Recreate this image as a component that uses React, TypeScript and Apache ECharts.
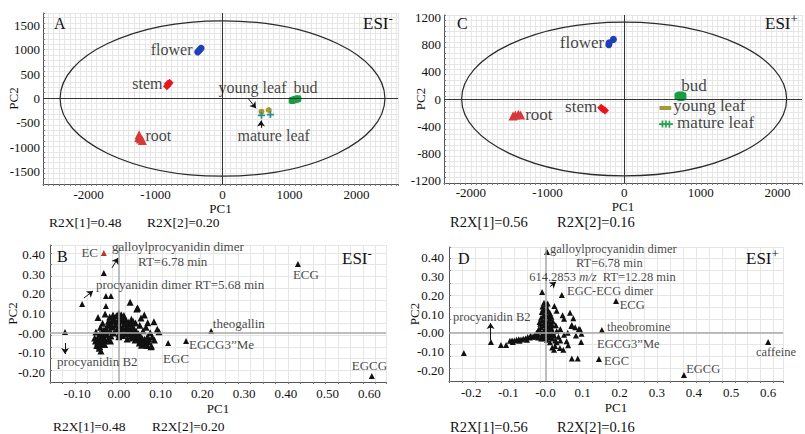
import { useEffect, useRef } from "react";
import * as echarts from "echarts";

const SERIF = "Liberation Serif, Times New Roman, serif";
const INK = "#111";

type Pt = [number, number];
type Note = [string, number, number, ("left" | "right" | "center")?];
type Arrow = [number, number, number, number];

// ---------- A: PCA scores, ESI− ----------
const flowerA: Pt[] = [[-370, 950], [-345, 990], [-320, 1030]];
const stemA: Pt[] = [[-830, 250], [-815, 300], [-805, 290], [-790, 320]];
const rootA: Pt[] = [[-1245, -740], [-1250, -800], [-1225, -830], [-1195, -860]];
const youngLeafA: Pt[] = [[582, -270], [690, -235]];
const matureLeafA: Pt[] = [[582, -345], [715, -330]];
const budA: Pt[] = [[1040, -40], [1070, -25], [1100, -15], [1125, -5]];
const notesA: Note[] = [
  ["flower", -448, 1013, "right"],
  ["stem", -896, 317, "right"],
  ["root", -1150, -767],
  ["young leaf", -60, 235],
  ["bud", 1060, 235],
  ["mature leaf", 224, -767],
];
const arrowsA: Arrow[] = [
  [390, -10, 500, -200],
  [575, -600, 575, -450],
];
const ellipseA: Pt = [2425, 1590];

// ---------- C: PCA scores, ESI+ ----------
const flowerC: Pt[] = [[-200, 800], [-195, 830], [-140, 880]];
const stemC: Pt[] = [[-300, -130], [-275, -150], [-250, -170]];
const rootC: Pt[] = [[-1450, -250], [-1420, -236], [-1380, -225], [-1350, -238]];
const youngLeafC: Pt[] = [[520, -133], [555, -133]];
const matureLeafC: Pt[] = [[500, -370], [545, -370], [590, -372]];
const budC: Pt[] = [[710, 40], [735, 50], [760, 40], [740, 30]];
const notesC: Note[] = [
  ["flower", -261, 841, "right"],
  ["bud", 744, 192],
  ["young leaf", 639, -103],
  ["mature leaf", 691, -354],
  ["stem", -352, -118, "right"],
  ["root", -1291, -236],
];
const ellipseC: Pt = [2120, 1135];

// ---------- B: PCA loadings, ESI− ----------
const ecB: Pt[] = [[-0.036, 0.409]];
const markedB: Pt[] = [
  [-0.036, 0.307], [-0.088, 0.149], [-0.031, 0.19], [-0.019, 0.19], [-0.031, 0.138],
  [-0.129, 0.006], [0.118, -0.051], [0.161, -0.04], [0.221, 0.011], [0.429, 0.353], [0.606, -0.219],
];
const denseB: Pt[] = [
  [0.0, 0.102], [0.006, 0.092], [-0.006, 0.088], [0.012, 0.08], [-0.011, 0.076], [0.002, 0.072],
  [0.016, 0.068], [-0.016, 0.064], [0.008, 0.06], [-0.003, 0.056], [0.022, 0.056], [-0.021, 0.05],
  [0.013, 0.046], [-0.008, 0.043], [0.027, 0.045], [-0.026, 0.04], [0.003, 0.036], [0.019, 0.034],
  [-0.015, 0.031], [0.032, 0.032], [-0.031, 0.025], [0.01, 0.026], [-0.005, 0.02], [0.023, 0.022],
  [0.037, 0.02], [-0.036, 0.015], [-0.021, 0.012], [0.005, 0.01], [0.015, 0.008], [0.029, 0.01],
  [0.042, 0.008], [-0.041, 0.004], [-0.012, 0.001], [0.0, -0.005], [0.02, -0.002], [0.035, -0.005],
  [0.047, -0.004], [-0.046, -0.006], [-0.029, -0.008], [-0.019, -0.015], [0.01, -0.012], [0.028, -0.016],
  [0.041, -0.019], [0.052, -0.016], [-0.05, -0.021], [-0.036, -0.023], [-0.026, -0.031], [0.0, -0.019],
  [0.046, -0.031], [0.056, -0.029], [-0.045, -0.036], [-0.038, -0.043], [0.051, -0.041], [0.061, -0.043],
  [-0.049, -0.051], [-0.041, -0.056], [0.059, -0.053], [0.066, -0.056], [-0.053, -0.063], [-0.046, -0.069],
  [0.067, -0.063], [0.049, -0.051], [-0.033, -0.041], [0.039, -0.036], [0.061, -0.031], [-0.056, -0.041],
  [0.071, -0.046], [0.03, 0.07], [0.04, 0.052], [0.065, 0.03], [0.075, 0.002], [0.08, -0.02],
  [0.085, -0.036], [0.068, -0.02], [-0.05, 0.08], [-0.033, 0.097], [-0.022, 0.082], [-0.039, 0.05],
  [0.027, 0.157], [0.045, 0.128], [0.043, 0.123], [0.061, 0.092], [0.053, 0.077], [0.069, 0.053],
  [0.084, 0.058], [0.092, 0.02], [0.096, 0.007], [0.077, -0.07], [0.078, -0.066], [-0.047, -0.078],
  [-0.043, -0.092], [-0.055, 0.005], [-0.051, -0.05], [-0.01, 0.06], [0.018, 0.05], [-0.018, 0.035],
  [0.008, 0.0], [-0.03, 0.005], [0.025, 0.0], [-0.04, -0.015], [0.032, -0.025], [-0.02, -0.04],
  [0.02, -0.03], [-0.025, 0.06], [0.034, 0.06], [0.05, 0.04], [-0.044, 0.03], [0.058, 0.012],
  [-0.058, -0.025], [-0.034, -0.058], [0.054, -0.062], [0.072, -0.03], [0.012, 0.09], [-0.014, 0.092],
];
const notesB: Note[] = [
  ["EC", -0.05, 0.414, "right"],
  ["galloylprocyanidin dimer", -0.0165, 0.44],
  ["RT=6.78 min", 0.0458, 0.368],
  ["procyanidin dimer RT=5.68 min", -0.055, 0.246],
  ["theogallin", 0.225, 0.047],
  ["EGCG3”Me", 0.168, -0.056],
  ["EGC", 0.106, -0.132],
  ["ECG", 0.417, 0.297],
  ["EGCG", 0.558, -0.168],
  ["procyanidin B2", -0.148, -0.143],
];
const arrowsB: Arrow[] = [
  [-0.0165, 0.333, -0.002, 0.384],
  [-0.0836, 0.179, -0.062, 0.215],
  [-0.129, -0.051, -0.129, -0.107],
];

// ---------- D: PCA loadings, ESI+ ----------
const markedD: Pt[] = [
  [0.004, 0.429], [-0.009, 0.217], [0.044, 0.201], [0.19, 0.169], [0.152, 0.015], [0.096, -0.048],
  [0.144, -0.138], [0.373, -0.223], [0.6, -0.048], [-0.147, -0.048], [-0.22, -0.107],
  [-0.12, -0.064], [-0.106, -0.064],
];
const denseD: Pt[] = [
  [-0.004, 0.16], [0.002, 0.15], [-0.008, 0.14], [0.004, 0.13], [-0.002, 0.12], [0.008, 0.115],
  [-0.01, 0.11], [0.0, 0.1], [0.01, 0.095], [-0.006, 0.09], [0.004, 0.085], [-0.012, 0.08],
  [0.012, 0.075], [0.0, 0.07], [-0.008, 0.065], [0.008, 0.06], [-0.002, 0.055], [0.014, 0.05],
  [-0.014, 0.048], [0.004, 0.045], [-0.006, 0.04], [0.01, 0.035], [-0.012, 0.03], [0.002, 0.028],
  [0.016, 0.025], [-0.018, 0.02], [0.006, 0.018], [-0.004, 0.012], [0.012, 0.01], [-0.014, 0.008],
  [0.02, 0.005], [0.0, 0.002], [-0.008, -0.004], [0.008, -0.006], [-0.02, -0.008], [0.016, -0.01],
  [0.0, -0.014], [-0.01, -0.018], [0.024, -0.015], [0.01, -0.022], [-0.004, -0.028], [0.018, -0.03],
  [0.004, -0.036], [-0.012, -0.03],
  [-0.03, -0.012], [-0.036, -0.02], [-0.042, -0.025], [-0.048, -0.022], [-0.054, -0.03], [-0.06, -0.031],
  [-0.066, -0.035], [-0.072, -0.034], [-0.078, -0.037], [-0.084, -0.04], [-0.09, -0.04], [-0.096, -0.042],
  [-0.088, -0.048], [-0.07, -0.042], [-0.05, -0.036], [-0.026, -0.02], [-0.04, -0.015], [-0.02, -0.024],
  [0.024, 0.143], [0.03, 0.117], [0.046, 0.094], [0.066, 0.106], [0.05, 0.075], [0.075, 0.077],
  [0.071, 0.042], [0.07, 0.037], [0.08, 0.03], [0.093, 0.019], [0.09, 0.02], [0.097, -0.005],
  [0.082, -0.014], [0.057, -0.045], [0.061, -0.066], [0.039, -0.08], [0.048, -0.089], [0.018, -0.077],
  [0.023, -0.089], [0.026, -0.07], [0.071, -0.136], [0.087, -0.136], [0.03, 0.01], [0.035, -0.02],
  [0.028, 0.04], [0.04, -0.04], [0.02, 0.06], [0.03, -0.05],
  [0.006, 0.155], [-0.006, 0.125], [0.012, 0.105], [0.016, 0.085], [-0.016, 0.058], [0.018, 0.04],
  [-0.024, 0.0], [0.026, -0.04], [0.012, -0.05], [0.04, 0.02], [0.05, -0.01], [0.06, 0.0],
];
const notesD: Note[] = [
  ["galloylprocyanidin dimer", 0.012, 0.447],
  ["RT=6.78 min", 0.082, 0.371],
  ["614.2853 {i|m/z}  RT=12.28 min", -0.044, 0.296],
  ["EGC-ECG dimer", 0.058, 0.222],
  ["ECG", 0.2, 0.147],
  ["procyanidin B2", -0.249, 0.084],
  ["theobromine", 0.166, 0.031],
  ["EGCG3”Me", 0.139, -0.059],
  ["EGC", 0.158, -0.149],
  ["EGCG", 0.379, -0.191],
  ["caffeine", 0.621, -0.101, "center"],
];
const arrowsD: Arrow[] = [
  [0.012, 0.245, 0.028, 0.27],
  [-0.148, -0.038, -0.148, 0.052],
];

// tick labels
const scoreTicksX = [-2000, -1000, 0, 1000, 2000];
const scoreTicksYA = [-1500, -1000, -500, 0, 500, 1000, 1500];
const scoreTicksYC = [-1200, -800, -400, 0, 400, 800, 1200];
const loadTicksXB = [-0.1, 0, 0.1, 0.2, 0.3, 0.4, 0.5, 0.6];
const loadTicksXD = [-0.2, -0.1, 0, 0.1, 0.2, 0.3, 0.4, 0.5, 0.6];
const loadTicksY = [-0.2, -0.1, 0, 0.1, 0.2, 0.3, 0.4];

const PLUS = "path://M3,0H5V3H8V5H5V8H3V5H0V3H3Z";

type AxisCfg = {
  min: number; max: number; step: number; ticks: number[];
  fmt: (v: number) => string; margin: number; gap: number;
};

function xAxis(gi: number, c: AxisCfg) {
  return {
    type: "value", gridIndex: gi, min: c.min, max: c.max, interval: c.step,
    name: "PC1", nameLocation: "middle", nameGap: c.gap, nameMoveOverlap: false,
    nameTextStyle: { fontFamily: SERIF, fontSize: 13, color: INK, lineHeight: 13 },
    axisLine: { show: true, onZero: false, lineStyle: { color: "#555", width: 1 } },
    axisTick: { show: true, inside: false, length: 2, lineStyle: { color: "#777" } },
    axisLabel: {
      customValues: c.ticks, formatter: c.fmt, margin: c.margin,
      fontFamily: SERIF, fontSize: 13, lineHeight: 13, color: INK,
    },
    splitLine: { show: true, lineStyle: { color: "#e6e6e6", width: 1 } },
  };
}

function yAxis(gi: number, c: AxisCfg) {
  return {
    type: "value", gridIndex: gi, min: c.min, max: c.max, interval: c.step,
    name: "PC2", nameLocation: "middle", nameRotate: 90, nameGap: c.gap, nameMoveOverlap: false,
    nameTextStyle: { fontFamily: SERIF, fontSize: 13, color: INK, lineHeight: 13 },
    axisLine: { show: true, onZero: false, lineStyle: { color: "#555", width: 1 } },
    axisTick: { show: true, inside: true, length: 2, lineStyle: { color: "#777" } },
    axisLabel: {
      customValues: c.ticks, formatter: c.fmt, margin: c.margin,
      fontFamily: SERIF, fontSize: 13, lineHeight: 13, color: INK,
    },
    splitLine: { show: true, lineStyle: { color: "#e6e6e6", width: 1 } },
  };
}

const intFmt = (v: number) => String(Math.round(v));
const fmt2x = (v: number) => (v === 0 ? "0.00" : v.toFixed(2));
const fmt2y = (v: number) => (v === 0 ? "-0.00" : v.toFixed(2));
const fmt1x = (v: number) => (v === 0 ? "-0.0" : v.toFixed(1));

function scatter(gi: number, data: Pt[], symbol: string, size: number | number[], color: string, extra: any = {}) {
  return {
    type: "scatter", xAxisIndex: gi, yAxisIndex: gi, data, symbol, symbolSize: size,
    itemStyle: { color, opacity: 1 }, silent: true, z: 4, ...extra,
  };
}

function zeroLines(color: string, width: number) {
  return {
    silent: true, symbol: "none", label: { show: false },
    lineStyle: { color, width, type: "solid" },
    data: [{ xAxis: 0 }, { yAxis: 0 }],
  };
}

function notes(gi: number, items: Note[], fontSize: number, arrows: Arrow[]) {
  return {
    type: "scatter", xAxisIndex: gi, yAxisIndex: gi, symbolSize: 0, clip: false, silent: true, z: 10,
    data: items.map(([t, x, y, a]) => ({ name: t, value: [x, y], label: { align: a ?? "left" } })),
    label: {
      show: true, position: [0, 0], formatter: "{b}", verticalAlign: "middle",
      fontFamily: SERIF, fontSize, lineHeight: fontSize, color: INK,
      rich: { i: { fontStyle: "italic", fontFamily: SERIF, fontSize, lineHeight: fontSize, color: INK } },
    },
    markLine: {
      silent: true, symbol: ["none", "arrow"], symbolSize: 6, label: { show: false },
      lineStyle: { color: INK, width: 1, type: "solid" },
      data: arrows.map(([x1, y1, x2, y2]) => [{ coord: [x1, y1] }, { coord: [x2, y2] }]),
    },
  };
}

function ellipse(gi: number, r: Pt) {
  return {
    type: "custom", xAxisIndex: gi, yAxisIndex: gi, data: [[0, 0]], clip: false, silent: true, z: 3,
    renderItem: (_p: any, api: any) => {
      const c = api.coord([0, 0]);
      const s = api.size([r[0], r[1]]);
      return {
        type: "ellipse",
        shape: { cx: c[0], cy: c[1], rx: s[0], ry: s[1] },
        style: { fill: "none", stroke: "#2a2a2a", lineWidth: 1.2 },
      };
    },
  };
}

function text(x: number, y: number, t: string, size: number, rich?: any) {
  return {
    type: "text", x, y, silent: true, z: 20,
    style: {
      text: t, fontFamily: SERIF, fontSize: size, lineHeight: size, fill: INK,
      align: "left", verticalAlign: "middle", rich,
    },
  };
}

const esiRich = {
  m: { fontFamily: SERIF, fontSize: 17, fill: INK },
  s: { fontFamily: SERIF, fontSize: 13, fill: INK, padding: [0, 0, 9, 0] },
};

function buildOption() {
  return {
    animation: false,
    backgroundColor: "#fff",
    grid: [
      { left: 43, top: 13, width: 355, height: 171 },
      { left: 444, top: 15, width: 358, height: 168 },
      { left: 50, top: 245, width: 336, height: 137 },
      { left: 449, top: 247, width: 334, height: 134 },
    ],
    xAxis: [
      xAxis(0, { min: -2680, max: 2620, step: 80, ticks: scoreTicksX, fmt: intFmt, margin: 4, gap: 18 }),
      xAxis(1, { min: -2350, max: 2320, step: 70, ticks: scoreTicksX, fmt: intFmt, margin: 3, gap: 17 }),
      xAxis(2, { min: -0.165, max: 0.64, step: 0.03, ticks: loadTicksXB, fmt: fmt2x, margin: 5, gap: 20 }),
      xAxis(3, { min: -0.26, max: 0.64, step: 0.035, ticks: loadTicksXD, fmt: fmt1x, margin: 5, gap: 20 }),
    ],
    yAxis: [
      yAxis(0, { min: -1750, max: 1750, step: 110, ticks: scoreTicksYA, fmt: intFmt, margin: 3, gap: 23 }),
      yAxis(1, { min: -1240, max: 1240, step: 80, ticks: scoreTicksYC, fmt: intFmt, margin: 3, gap: 17 }),
      yAxis(2, { min: -0.25, max: 0.45, step: 0.06, ticks: loadTicksY, fmt: fmt2y, margin: 5, gap: 31 }),
      yAxis(3, { min: -0.255, max: 0.455, step: 0.065, ticks: loadTicksY, fmt: fmt2y, margin: 5, gap: 28 }),
    ],
    series: [
      // A
      ellipse(0, ellipseA),
      scatter(0, flowerA, "circle", 7, "#1e3fb8", { markLine: zeroLines("#333", 1) }),
      scatter(0, stemA, "diamond", 8, "#e8161c"),
      scatter(0, rootA, "triangle", 9, "#d6393b"),
      scatter(0, budA, "roundRect", 7, "#14a043"),
      scatter(0, youngLeafA, "circle", 6, "#a8982a"),
      scatter(0, matureLeafA, PLUS, 7, "#2b8c8c"),
      notes(0, notesA, 16, arrowsA),
      // C
      ellipse(1, ellipseC),
      scatter(1, flowerC, "circle", 7, "#1e3fb8", { markLine: zeroLines("#333", 1) }),
      scatter(1, stemC, "diamond", 8, "#e8161c"),
      scatter(1, rootC, "triangle", 9, "#d6393b"),
      scatter(1, budC, "roundRect", 8, "#14a043"),
      scatter(1, youngLeafC, "rect", [9, 4], "#a19a3a"),
      scatter(1, matureLeafC, PLUS, 7, "#2aa050"),
      notes(1, notesC, 17, []),
      // B
      scatter(2, denseB, "triangle", 7, "#111", { markLine: zeroLines("#a8a8a8", 1.5) }),
      scatter(2, markedB, "triangle", 6, "#111"),
      scatter(2, ecB, "triangle", 6, "#c0302a"),
      notes(2, notesB, 13, arrowsB),
      // D
      scatter(3, denseD, "triangle", 6, "#111", { markLine: zeroLines("#a8a8a8", 1.5) }),
      scatter(3, markedD, "triangle", 6, "#111"),
      notes(3, notesD, 12.5, arrowsD),
    ],
    graphic: [
      text(54, 23, "A", 16),
      text(457, 23, "C", 16),
      text(57, 256, "B", 16),
      text(458, 258, "D", 16),
      text(363, 23, "{m|ESI}{s|-}", 17, esiRich),
      text(765, 23, "{m|ESI}{s|+}", 17, esiRich),
      text(342, 258, "{m|ESI}{s|-}", 17, esiRich),
      text(746, 258, "{m|ESI}{s|+}", 17, esiRich),
      text(49, 222, "R2X[1]=0.48", 13.5),
      text(147, 222, "R2X[2]=0.20", 13.5),
      text(53, 426, "R2X[1]=0.48", 13.5),
      text(152, 426, "R2X[2]=0.20", 13.5),
      text(450, 222, "R2X[1]=0.56", 14.5),
      text(557, 222, "R2X[2]=0.16", 14.5),
      text(450, 427, "R2X[1]=0.56", 14.5),
      text(557, 427, "R2X[2]=0.16", 14.5),
    ],
  };
}

export default function App() {
  const ref = useRef<HTMLDivElement>(null);
  useEffect(() => {
    document.body.style.margin = "0";
    const chart = echarts.init(ref.current!, null, { renderer: "svg" });
    chart.setOption(buildOption() as any);
    return () => chart.dispose();
  }, []);
  return <div ref={ref} style={{ width: 805, height: 434, background: "#fff" }} />;
}
